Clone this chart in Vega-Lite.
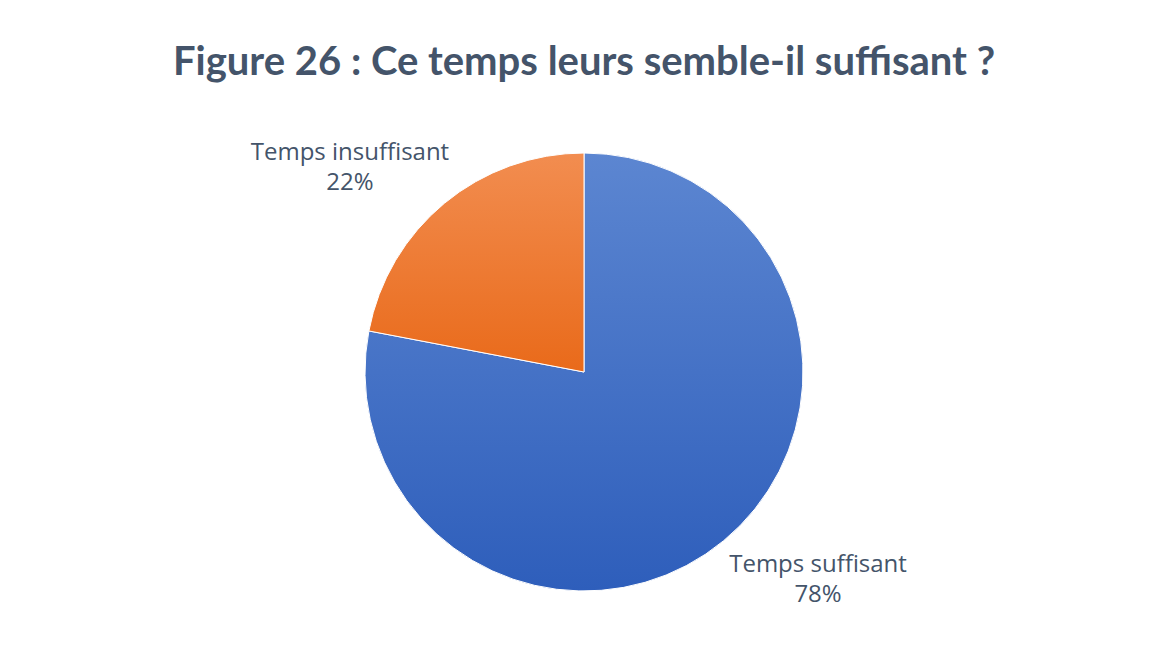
{
  "$schema": "https://vega.github.io/schema/vega-lite/v6.json",
  "autosize": "none",
  "padding": {"top": 110, "left": 16, "right": 0, "bottom": 0},
  "width": 1136,
  "height": 524,
  "background": "white",
  "config": {"view": {"stroke": null}},
  "title": {
    "text": "Figure 26 : Ce temps leurs semble-il suffisant ?",
    "font": "Lato",
    "fontSize": 40,
    "fontWeight": "bold",
    "color": "#44546A",
    "anchor": "middle",
    "offset": 27
  },
  "data": {
    "values": [
      {"cat": "Temps suffisant", "pct": 78, "order": 1},
      {"cat": "Temps insuffisant", "pct": 22, "order": 2}
    ]
  },
  "layer": [
    {
      "mark": {"type": "arc", "outerRadius": 219, "stroke": "white", "strokeWidth": 1},
      "encoding": {
        "theta": {"field": "pct", "type": "quantitative", "stack": true},
        "order": {"field": "order", "type": "quantitative"},
        "color": {
          "condition": {
            "test": "datum.cat == 'Temps suffisant'",
            "value": {"gradient": "linear", "x1": 0, "y1": 0, "x2": 0, "y2": 1,
              "stops": [{"offset": 0, "color": "#5C86D1"}, {"offset": 1, "color": "#2E5EBB"}]}
          },
          "value": {"gradient": "linear", "x1": 0, "y1": 0, "x2": 0, "y2": 1,
            "stops": [{"offset": 0, "color": "#F28D50"}, {"offset": 1, "color": "#E96A1A"}]}
        }
      }
    },
    {
      "transform": [{"calculate": "[datum.cat, datum.pct + '%']", "as": "label"}],
      "mark": {"type": "text", "radius": 312, "font": "Open Sans", "fontSize": 24, "color": "#44546A", "lineHeight": 30, "align": "center", "baseline": "middle", "dy": -13},
      "encoding": {
        "theta": {"field": "pct", "type": "quantitative", "stack": true, "scale": {"range": [-0.157, 6.126]}},
        "order": {"field": "order", "type": "quantitative"},
        "text": {"field": "label"}
      }
    }
  ],
  "resolve": {"scale": {"theta": "independent"}}
}
